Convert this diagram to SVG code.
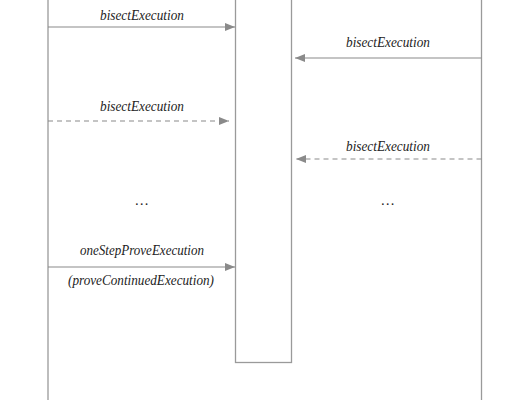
<svg xmlns="http://www.w3.org/2000/svg" width="520" height="400" viewBox="0 0 520 400">
<style>
.life{stroke:#9a9a9a;stroke-width:1.3;fill:none}
.act{stroke:#9a9a9a;stroke-width:1.3;fill:#fff}
.msg{stroke:#8a8a8a;stroke-width:1.2;fill:none}
.dash{stroke-dasharray:5 4}
.lbl{font-style:italic;font-size:14.5px;fill:#222;text-anchor:middle}
</style>
<defs>
<marker id="ah" viewBox="0 0 10 8" refX="10" refY="4" markerWidth="10" markerHeight="8" markerUnits="userSpaceOnUse" orient="auto">
<path d="M0,0 L10,4 L0,8 z" fill="#8a8a8a"/>
</marker>
</defs>
<rect width="520" height="400" fill="#fff"/>
<g id="leftLifeline"><line class="life" x1="48" y1="0" x2="48" y2="400"/></g>
<g id="rightLifeline"><line class="life" x1="481.5" y1="0" x2="481.5" y2="400"/></g>
<g id="activation"><rect class="act" x="235.5" y="-2" width="56" height="364.5"/></g>
<g id="connectors">
<line class="msg" x1="48" y1="27" x2="235" y2="27" marker-end="url(#ah)"/>
<line class="msg" x1="481.5" y1="58" x2="295" y2="58" marker-end="url(#ah)"/>
<line class="msg dash" x1="48" y1="121" x2="229" y2="121" marker-end="url(#ah)"/>
<line class="msg dash" x1="481.5" y1="159" x2="296" y2="159" marker-end="url(#ah)"/>
<line class="msg" x1="48" y1="267" x2="235" y2="267" marker-end="url(#ah)"/>
</g>
<g id="labels" font-family="'Liberation Serif','DejaVu Serif',serif">
<text class="lbl" x="142" y="20" textLength="84" lengthAdjust="spacingAndGlyphs">bisectExecution</text>
<text class="lbl" x="388" y="47" textLength="84" lengthAdjust="spacingAndGlyphs">bisectExecution</text>
<text class="lbl" x="142" y="111" textLength="84" lengthAdjust="spacingAndGlyphs">bisectExecution</text>
<text class="lbl" x="388" y="151" textLength="84" lengthAdjust="spacingAndGlyphs">bisectExecution</text>
<text class="lbl" x="142" y="205">…</text>
<text class="lbl" x="388" y="205">…</text>
<text class="lbl" x="142" y="255" textLength="124" lengthAdjust="spacingAndGlyphs">oneStepProveExecution</text>
<text class="lbl" x="141" y="285" textLength="146" lengthAdjust="spacingAndGlyphs">(proveContinuedExecution)</text>
</g>
</svg>
